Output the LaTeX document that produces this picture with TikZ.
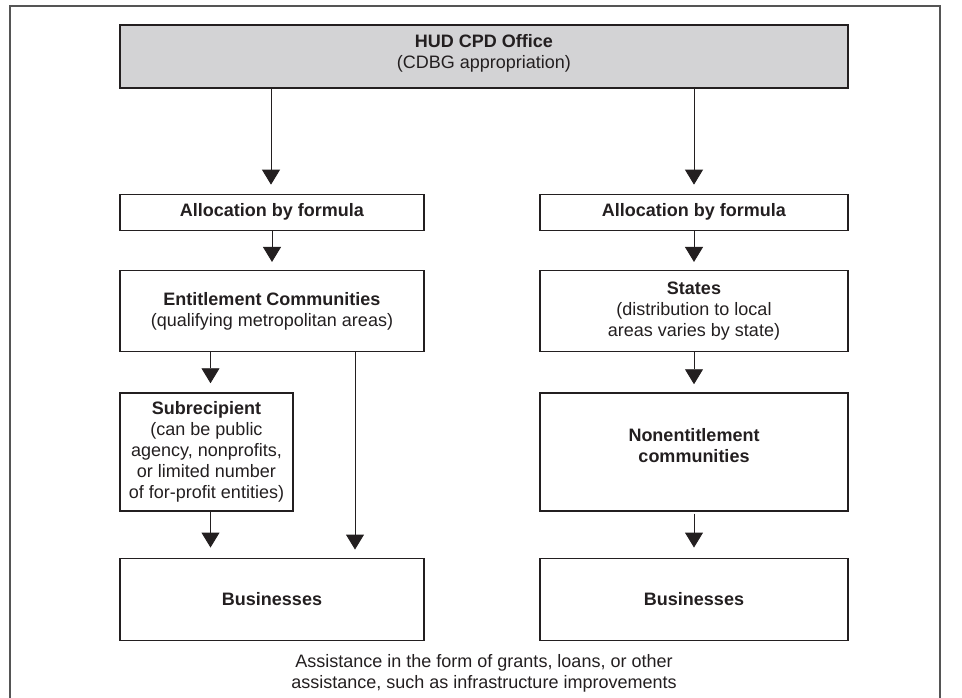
\documentclass[tikz,border=0pt]{standalone}
\usepackage{fontspec}
\setmainfont{Liberation Sans}
\usetikzlibrary{positioning, arrows.meta}
\definecolor{hudgray}{HTML}{D3D3D5}
\definecolor{inkgray}{HTML}{231F20}
\definecolor{framegray}{HTML}{555555}

\begin{document}
\begin{tikzpicture}[
  x=1pt, y=-1pt,
  box/.style={draw=inkgray, line width=1.3pt, inner sep=2pt, align=center,
              text=inkgray, font=\fontsize{18}{21}\selectfont},
  arrow/.style={-{Triangle[width=18pt,length=15pt]}, line width=0.9pt, draw=inkgray},
]
  \useasboundingbox (0,0) rectangle (962,698);
  % Frame
  \draw[framegray, line width=1.4pt] (10,698) -- (10,6) -- (940,6) -- (940,698);
  % Top office
  \node[box, fill=hudgray, minimum width=728pt, minimum height=63pt] (hud) at (484,56.5)
    {\mbox{}\\[-15pt]\textbf{HUD CPD Office}\\(CDBG appropriation)};
  % Formula allocations
  \node[box, minimum width=304pt, minimum height=36pt,
        below=105pt of hud.south west, anchor=north west] (allocL) {\textbf{Allocation by formula}};
  \node[box, minimum width=308pt, minimum height=36pt,
        below=105pt of hud.south east, anchor=north east] (allocR) {\textbf{Allocation by formula}};
  % Entitlement side
  \node[box, minimum width=304pt, minimum height=81pt,
        below=39pt of allocL.south west, anchor=north west] (ent)
    {\textbf{Entitlement Communities}\\(qualifying metropolitan areas)};
  \node[box, minimum width=173pt, minimum height=118pt,
        below=40pt of ent.south west, anchor=north west] (sub)
    {\textbf{Subrecipient}\\(can be public\\agency, nonprofits,\\or limited number\\of for-profit entities)};
  \node[box, minimum width=304pt, minimum height=82pt,
        below=46pt of sub.south west, anchor=north west] (busL) {\textbf{Businesses}};
  % State side
  \node[box, minimum width=308pt, minimum height=81pt,
        below=39pt of allocR.south east, anchor=north east] (states)
    {\textbf{States}\\(distribution to local\\areas varies by state)};
  \node[box, minimum width=308pt, minimum height=118pt,
        below=40pt of states.south east, anchor=north east] (nonent)
    {\textbf{Nonentitlement}\\\textbf{communities}\\[-9pt]\mbox{}};
  \node[box, minimum width=308pt, minimum height=82pt,
        below=46pt of nonent.south east, anchor=north east] (busR) {\textbf{Businesses}};
  % Note
  \node[align=center, text=inkgray, font=\fontsize{18}{21}\selectfont] (note) at (484,673)
    {Assistance in the form of grants, loans, or other\\assistance, such as infrastructure improvements};
  % Arrows
  \draw[arrow, shorten >=9pt] ([xshift=-1pt]allocL.north |- hud.south) -- ([xshift=-1pt]allocL.north);
  \draw[arrow, shorten >=9pt] (allocR.north |- hud.south) -- (allocR.north);
  \draw[arrow, shorten >=8pt] (allocL) -- (ent);
  \draw[arrow, shorten >=8pt] (allocR) -- (states);
  \draw[arrow, shorten >=9pt] ([xshift=4pt]sub.north |- ent.south) -- ([xshift=4pt]sub.north);
  \draw[arrow, shorten >=10pt] ([xshift=4pt]sub.south) -- ([xshift=4pt]sub.south |- busL.north);
  \draw[arrow, shorten >=8pt] ([xshift=83pt]ent.south) -- ([xshift=83pt]ent.south |- busL.north);
  \draw[arrow, shorten >=8pt] (states) -- (nonent);
  \draw[arrow, shorten <=2pt, shorten >=10pt] (nonent) -- (busR);
\end{tikzpicture}
\end{document}
